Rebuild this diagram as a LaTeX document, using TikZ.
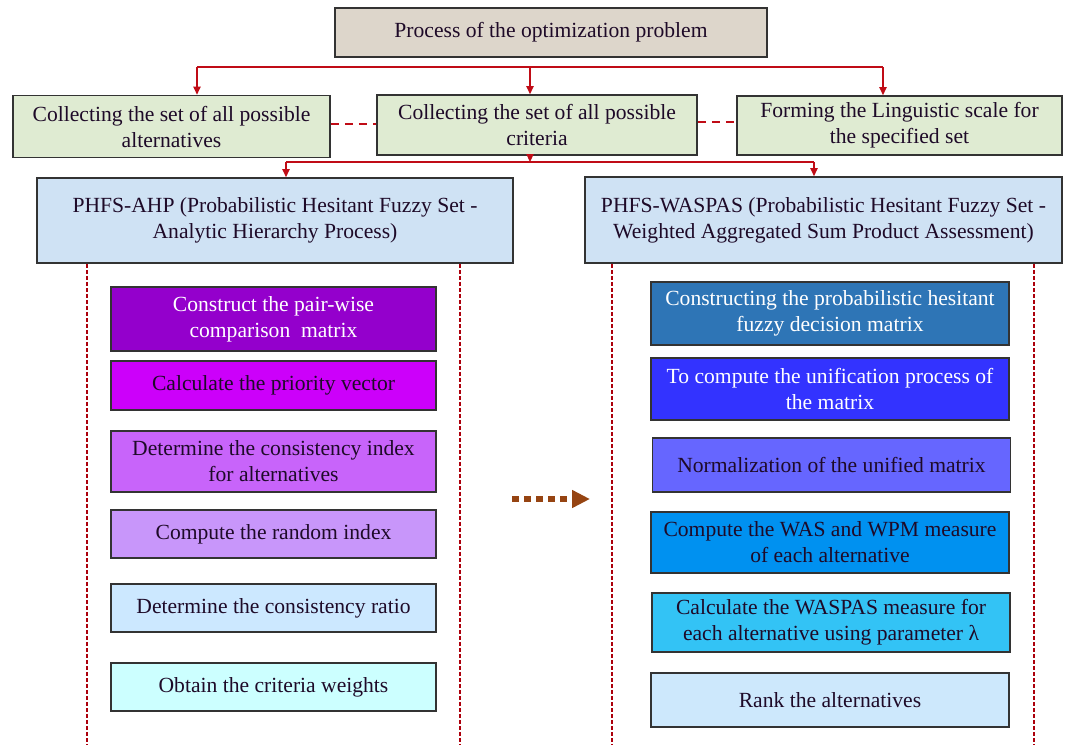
\documentclass[tikz,border=0pt]{standalone}
\usepackage{fontspec}
\setmainfont{Liberation Serif}
\usetikzlibrary{arrows.meta}

\definecolor{sand}{RGB}{221,214,203}
\definecolor{leaf}{RGB}{223,235,210}
\definecolor{sky}{RGB}{207,226,244}
\definecolor{linkred}{RGB}{192,12,22}
\definecolor{wine}{RGB}{172,0,12}
\definecolor{rust}{RGB}{150,68,18}
\definecolor{ink}{RGB}{30,10,40}
% AHP step colours
\definecolor{ahpA}{RGB}{148,0,204}
\definecolor{ahpB}{RGB}{204,0,250}
\definecolor{ahpC}{RGB}{200,100,250}
\definecolor{ahpD}{RGB}{200,150,250}
\definecolor{ahpE}{RGB}{204,232,255}
\definecolor{ahpF}{RGB}{204,255,255}
% WASPAS step colours
\definecolor{wasA}{RGB}{46,117,182}
\definecolor{wasB}{RGB}{51,51,255}
\definecolor{wasC}{RGB}{102,102,255}
\definecolor{wasD}{RGB}{0,145,240}
\definecolor{wasE}{RGB}{51,195,245}
\definecolor{wasF}{RGB}{205,232,252}

\begin{document}
\begin{tikzpicture}[x=0.5pt,y=-0.5pt,
    box/.style={draw=black!80,line width=0.8pt,align=center,inner sep=1pt,text=ink,
      font=\fontsize{10.8}{13}\selectfont},
    lstep/.style={box,fill=#1,minimum width=\lw pt},
    rstep/.style={box,fill=#1,minimum width=\rw pt},
    link/.style={draw=linkred,line width=0.7pt},
    flow/.style={link,-{Triangle[length=4pt,width=3.6pt]}},
    rel/.style={draw=linkred,line width=1pt,dash pattern=on 4pt off 3pt},
    panel/.style={draw=wine,line width=1.3pt,dash pattern=on 2pt off 1pt},
    hop/.style={draw=rust,line width=3pt,dash pattern=on 3.5pt off 2.5pt,
      -{Triangle[length=9pt,width=8.5pt]}}]
  \pgfmathsetmacro{\lw}{162.5} % left step width
  \pgfmathsetmacro{\rw}{179} % right step width
  \useasboundingbox (0,0) rectangle (1072,745);

  % top level
  \node[box,fill=sand,minimum width=216pt,minimum height=24.5pt] (top) at (551,32.5) {Process of the optimization problem};
  \node[box,fill=leaf,minimum width=158.5pt,minimum height=31pt] (alt) at (171.5,126.5) {Collecting the set of all possible\\alternatives};
  \node[box,fill=leaf,minimum width=160pt,minimum height=30pt] (crit) at (537,125) {Collecting the set of all possible\\criteria};
  \node[box,fill=leaf,minimum width=162.5pt,minimum height=29.5pt] (ling) at (899.5,125.5) {Forming the Linguistic scale for\\the specified set};
  \node[box,fill=sky,minimum width=238pt,minimum height=42.5pt] (ahp) at (275,220.5) {PHFS-AHP (Probabilistic Hesitant Fuzzy Set -\\Analytic Hierarchy Process)};
  \node[box,fill=sky,minimum width=238.5pt,minimum height=43pt] (waspas) at (823.5,220) {PHFS-WASPAS (Probabilistic Hesitant Fuzzy Set -\\Weighted Aggregated Sum Product Assessment)};

  % AHP steps
  \node[lstep=ahpA,minimum height=32pt,text=white] (a1) at (273.5,319) {Construct the pair-wise\\comparison\ \ matrix};
  \node[lstep=ahpB,minimum height=24.5pt] (a2) at (273.5,385.5) {Calculate the priority vector};
  \node[lstep=ahpC,minimum height=30.5pt] (a3) at (273.5,461.5) {Determine the consistency index\\for alternatives};
  \node[lstep=ahpD,minimum height=24pt] (a4) at (273.5,534) {Compute the random index};
  \node[lstep=ahpE,minimum height=24pt] (a5) at (273.5,608) {Determine the consistency ratio};
  \node[lstep=ahpF,minimum height=24pt] (a6) at (273.5,687) {Obtain the criteria weights};

  % WASPAS steps
  \node[rstep=wasA,minimum height=31.5pt,text=white] (w1) at (830,313.5) {Constructing the probabilistic hesitant\\fuzzy decision matrix};
  \node[rstep=wasB,minimum height=31pt,text=white] (w2) at (830,389) {To compute the unification process of\\the matrix};
  \node[rstep=wasC,minimum height=27pt] (w3) at (831.5,465) {Normalization of the unified matrix};
  \node[rstep=wasD,minimum height=30.5pt] (w4) at (830,542.5) {Compute the WAS and WPM measure\\of each alternative};
  \node[rstep=wasE,minimum height=29.5pt] (w5) at (831,622.5) {Calculate the WASPAS measure for\\each alternative using parameter λ};
  \node[rstep=wasF,minimum height=27pt] (w6) at (830,700) {Rank the alternatives};

  % connectors
  \coordinate (busL) at (197,67);
  \coordinate (busM) at (530,67);
  \coordinate (busR) at (883,67);
  \draw[link] (busL) -- (busR);
  \draw[flow] (busL) -- (busL |- alt.north);
  \draw[flow] (busM) -- (busM |- crit.north);
  \draw[flow] (busR) -- (busR |- ling.north);
  \draw[rel] ([yshift=1.5pt]alt.east) -- ([yshift=1.5pt]alt.east -| crit.west);
  \draw[rel] ([yshift=1.5pt]crit.east) -- ([yshift=1.5pt]crit.east -| ling.west);

  \coordinate (split) at (530,162);
  \coordinate (splitL) at (286,162);
  \coordinate (splitR) at (814,162);
  \draw[flow] (split |- crit.south) -- (split);
  \draw[link] (splitL) -- (splitR);
  \draw[flow] (splitL) -- (splitL |- ahp.north);
  \draw[flow] (splitR) -- (splitR |- waspas.north);

  % panel borders
  \coordinate (aL) at (87,745);
  \coordinate (aR) at (460,745);
  \coordinate (wL) at (612,745);
  \coordinate (wR) at (1034,745);
  \draw[panel] (aL |- ahp.south) -- (aL);
  \draw[panel] (aR |- ahp.south) -- (aR);
  \draw[panel] (wL |- waspas.south) -- (wL);
  \draw[panel] (wR |- waspas.south) -- (wR);

  \coordinate (goL) at (512,499);
  \coordinate (goR) at (590,499);
  \draw[hop] (goL) -- (goR);
\end{tikzpicture}
\end{document}
